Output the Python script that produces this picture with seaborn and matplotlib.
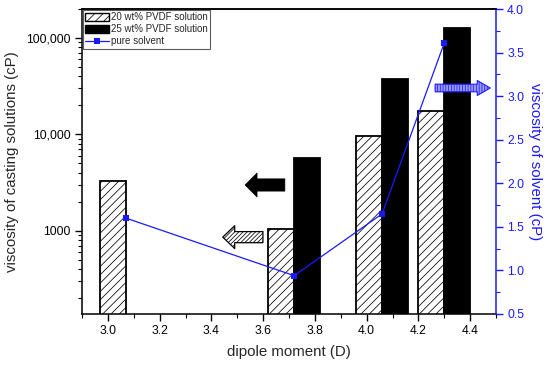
import numpy as np
import pandas as pd
import matplotlib
matplotlib.use("Agg")
import matplotlib.pyplot as plt
import seaborn as sns
from matplotlib.patches import Patch
from matplotlib.lines import Line2D
from matplotlib.ticker import FixedLocator, FixedFormatter, LogLocator, NullFormatter, MultipleLocator

# ---- data ----
dipole = [3.07, 3.72, 4.06, 4.30]
visc_20 = [3300, 1050, 9700, 17500]
dipole_25 = [3.72, 4.06, 4.30]
visc_25 = [5700, 37300, 126000]
visc_solvent = [1.60, 0.94, 1.65, 3.61]
series = ["20 wt% PVDF solution", "25 wt% PVDF solution"]
line_label = "pure solvent"
left_ticks = [1000, 10000, 100000]
left_ticklabels = ["1000", "10,000", "100,000"]
x_ticks = [3.0, 3.2, 3.4, 3.6, 3.8, 4.0, 4.2, 4.4]
right_ticks = [0.5, 1.0, 1.5, 2.0, 2.5, 3.0, 3.5, 4.0]

sns.set_theme(style="ticks")
plt.rcParams["font.family"] = ["Liberation Sans", "DejaVu Sans"]
plt.rcParams["hatch.linewidth"] = 0.55
plt.rcParams["axes.edgecolor"] = "black"
plt.rcParams["xtick.color"] = "black"
plt.rcParams["ytick.color"] = "black"

BLUE = "#1a1aff"

fig = plt.figure(figsize=(5.5, 3.68), dpi=100)
ax = fig.add_axes([82 / 550, 1 - 314 / 368, 414 / 550, 305 / 368])

df = pd.DataFrame({
    "dipole": dipole + dipole_25,
    "visc": visc_20 + visc_25,
    "series": [series[0]] * len(dipole) + [series[1]] * len(dipole_25),
})

ax.set_yscale("log", nonpositive="clip")
sns.barplot(data=df, x="dipole", y="visc", hue="series", hue_order=series,
            native_scale=True, width=0.2 / 0.24,
            palette=["white", "black"], saturation=1, errorbar=None,
            legend=False, ax=ax, edgecolor="black", linewidth=1.3)
ax.set_yscale("log", nonpositive="clip")

# bars start from the bottom of the log axis (avoid zero baseline on log scale)
for cont in ax.containers:
    for p in cont:
        top = p.get_y() + p.get_height()
        p.set_y(1.0)
        p.set_height(top - 1.0)

for bar in ax.containers[0]:
    bar.set_hatch("////")

ax.set_xlim(2.9, 4.5)
ax.set_ylim(137, 2.0e5)
ax.yaxis.set_major_locator(FixedLocator(left_ticks))
ax.yaxis.set_major_formatter(FixedFormatter(left_ticklabels))
ax.yaxis.set_minor_locator(LogLocator(base=10, subs=np.arange(2, 10)))
ax.yaxis.set_minor_formatter(NullFormatter())
ax.set_xticks(x_ticks)
ax.set_xticklabels([f"{v:.1f}" for v in x_ticks])
ax.xaxis.set_minor_locator(MultipleLocator(0.1))

ax.tick_params(axis="both", which="major", direction="out", length=5, width=1,
               labelsize=8.7, pad=3)
ax.tick_params(axis="both", which="minor", direction="out", length=3, width=0.8)
ax.set_xlabel("dipole moment (D)", fontsize=10.8, labelpad=6)
ax.set_ylabel("viscosity of casting solutions (cP)", fontsize=10.8, labelpad=5)
for s in ["left", "bottom", "top"]:
    ax.spines[s].set_linewidth(1.1)
    ax.spines[s].set_color("black")
ax.spines["right"].set_visible(False)

# arrows
ax.annotate("", xy=(0.394, 0.423), xytext=(0.490, 0.423), xycoords="axes fraction",
            arrowprops=dict(arrowstyle="simple,head_length=0.86,head_width=1.73,tail_width=0.88",
                            fc="black", ec="black", lw=0.5, shrinkA=0, shrinkB=0,
                            mutation_scale=10))
ax.annotate("", xy=(0.340, 0.252), xytext=(0.437, 0.252), xycoords="axes fraction",
            arrowprops=dict(arrowstyle="simple,head_length=0.86,head_width=1.65,tail_width=0.8",
                            fc="white", ec="black", lw=0.9, hatch="////////",
                            shrinkA=0, shrinkB=0, mutation_scale=10))
ax.annotate("", xy=(0.986, 0.741), xytext=(0.853, 0.741), xycoords="axes fraction",
            arrowprops=dict(arrowstyle="simple,head_length=0.93,head_width=1.08,tail_width=0.55",
                            fc="#9a9aff", ec=BLUE, lw=0.8, hatch="||||||",
                            shrinkA=0, shrinkB=0, mutation_scale=10))

# right axis: pure solvent
ax2 = ax.twinx()
sns.lineplot(x=dipole, y=visc_solvent, ax=ax2, color=BLUE, marker="s",
             markersize=4.5, markeredgewidth=0, linewidth=0.9, legend=False)
ax2.set_ylim(0.5, 4.0)
ax2.set_yticks(right_ticks)
ax2.set_yticklabels([f"{v:.1f}" for v in right_ticks])
ax2.yaxis.set_minor_locator(MultipleLocator(0.25))
ax2.tick_params(axis="y", which="major", direction="out", length=5, width=1,
                colors=BLUE, labelsize=8.7, pad=3)
ax2.tick_params(axis="y", which="minor", direction="out", length=3, width=0.8, colors=BLUE)
ax2.set_ylabel("viscosity of solvent (cP)", fontsize=10.8, color=BLUE,
               rotation=270, labelpad=13)
ax2.spines["right"].set_color(BLUE)
ax2.spines["right"].set_linewidth(1.1)
ax2.spines["left"].set_visible(False)
ax2.spines["top"].set_color("black")
ax2.spines["top"].set_linewidth(1.1)
ax2.spines["bottom"].set_visible(False)

handles = [
    Patch(facecolor="white", edgecolor="black", hatch="////", linewidth=1.0),
    Patch(facecolor="black", edgecolor="black"),
    Line2D([], [], color=BLUE, marker="s", markersize=4.5, markeredgewidth=0, linewidth=0.9),
]
leg = ax2.legend(handles=handles, labels=series + [line_label], loc="upper left",
                 bbox_to_anchor=(0.0, 1.0), fontsize=7, frameon=True, fancybox=False,
                 borderpad=0.25, handlelength=2.4, handleheight=0.75,
                 handletextpad=0.2, labelspacing=0.2, borderaxespad=0.1)
leg.get_frame().set_edgecolor("#333333")
leg.get_frame().set_linewidth(0.8)

fig.savefig("out.png", dpi=100)
